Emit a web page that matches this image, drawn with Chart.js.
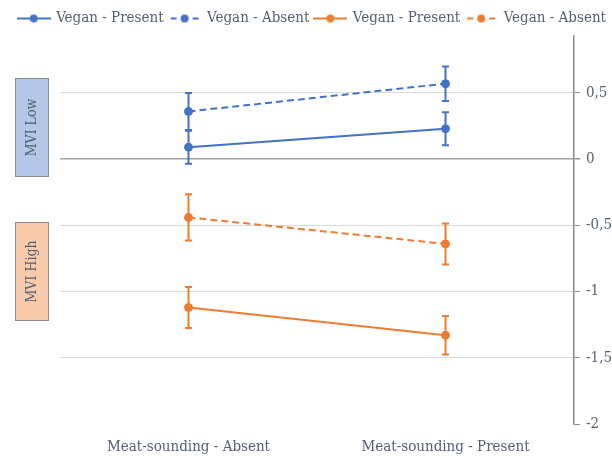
<!DOCTYPE html>
<html>
<head>
<meta charset="utf-8">
<script src="https://cdn.jsdelivr.net/npm/chart.js@4"></script>
<style>
  html, body { margin: 0; padding: 0; background: #fff; }
  #wrap { width: 612px; height: 462px; position: relative; }
</style>
</head>
<body>
<div id="wrap"><canvas id="chartCanvas" width="612" height="462"></canvas></div>
<script>
// donnees
const categories = ["Meat-sounding - Absent", "Meat-sounding - Present"];
const seriesNames = ["Vegan - Present", "Vegan - Absent", "Vegan - Present", "Vegan - Absent"];
const lowPresent = [0.09, 0.23];
const lowAbsent = [0.36, 0.57];
const highAbsent = [-0.44, -0.64];
const highPresent = [-1.12, -1.33];
const lowPresentErr = [0.125, 0.125];
const lowAbsentErr = [0.14, 0.13];
const highAbsentErr = [0.175, 0.155];
const highPresentErr = [0.155, 0.145];
const tickValues = [0.5, 0, -0.5, -1, -1.5, -2];
const boxLabels = ["MVI Low", "MVI High"];

const BLUE = "#4472C4";
const ORANGE = "#ED7D31";
const TXT = "#56606f";
const FONT = "'DejaVu Serif Condensed', 'DejaVu Serif', serif";

// petit symbole pour la legende (ligne + point)
const makeSymbol = (color, dashed) => {
  const c = document.createElement("canvas");
  c.width = 34;
  c.height = 12;
  const g = c.getContext("2d");
  g.strokeStyle = color;
  g.fillStyle = color;
  g.lineWidth = 2;
  g.beginPath();
  if (dashed) {
    g.moveTo(3, 6); g.lineTo(9, 6);
    g.moveTo(25, 6); g.lineTo(31, 6);
  } else {
    g.moveTo(0, 6); g.lineTo(34, 6);
  }
  g.stroke();
  g.beginPath();
  g.arc(17, 6, 4, 0, Math.PI * 2);
  g.fill();
  return c;
};

const makeDataset = (label, data, color, dashed, err) => ({
  label: label,
  data: data,
  errors: err,
  yAxisID: "y",
  borderColor: color,
  backgroundColor: color,
  pointBackgroundColor: color,
  pointBorderColor: color,
  pointRadius: 4,
  pointHoverRadius: 4,
  pointBorderWidth: 1,
  borderWidth: 2,
  borderDash: dashed ? [7, 4] : [],
  fill: false,
  tension: 0,
  symbol: makeSymbol(color, dashed),
});

// barres d'erreur
const errorBars = {
  id: "errorBars",
  afterDatasetsDraw(chart) {
    const { ctx } = chart;
    const yScale = chart.scales.y;
    chart.data.datasets.forEach((ds, i) => {
      const meta = chart.getDatasetMeta(i);
      ctx.save();
      ctx.strokeStyle = ds.borderColor;
      ctx.lineWidth = 2;
      meta.data.forEach((pt, j) => {
        const v = ds.data[j];
        const e = ds.errors[j];
        const yTop = yScale.getPixelForValue(v + e);
        const yBot = yScale.getPixelForValue(v - e);
        ctx.beginPath();
        ctx.moveTo(pt.x, yTop); ctx.lineTo(pt.x, yBot);
        ctx.moveTo(pt.x - 3.5, yTop); ctx.lineTo(pt.x + 3.5, yTop);
        ctx.moveTo(pt.x - 3.5, yBot); ctx.lineTo(pt.x + 3.5, yBot);
        ctx.stroke();
      });
      ctx.restore();
    });
  },
};

// etiquettes MVI a gauche
const sideBoxes = {
  id: "sideBoxes",
  afterDraw(chart) {
    const { ctx } = chart;
    const boxes = [
      { text: boxLabels[0], y: 78, fill: "#b4c7e7" },
      { text: boxLabels[1], y: 222, fill: "#f8cbad" },
    ];
    boxes.forEach((b) => {
      ctx.save();
      ctx.fillStyle = b.fill;
      ctx.fillRect(15, b.y, 34, 99);
      ctx.strokeStyle = "#8c8c8c";
      ctx.lineWidth = 1;
      ctx.strokeRect(15.5, b.y + 0.5, 33, 98);
      ctx.translate(32, b.y + 49.5);
      ctx.rotate(-Math.PI / 2);
      ctx.fillStyle = TXT;
      ctx.font = "14px " + FONT;
      ctx.textAlign = "center";
      ctx.textBaseline = "middle";
      ctx.fillText(b.text, 0, 0);
      ctx.restore();
    });
  },
};

const chartCanvas = document.getElementById("chartCanvas");

const chart = new Chart(chartCanvas, {
  type: "line",
  data: {
    labels: categories,
    datasets: [
      makeDataset(seriesNames[0], lowPresent, BLUE, false, lowPresentErr),
      makeDataset(seriesNames[1], lowAbsent, BLUE, true, lowAbsentErr),
      makeDataset(seriesNames[2], highPresent, ORANGE, false, highPresentErr),
      makeDataset(seriesNames[3], highAbsent, ORANGE, true, highAbsentErr),
    ],
  },
  options: {
    responsive: false,
    animation: false,
    layout: { padding: { left: 0, right: 0, top: 5, bottom: 0 } },
    plugins: {
      tooltip: { enabled: false },
      legend: {
        position: "top",
        align: "end",
        labels: {
          usePointStyle: true,
          pointStyleWidth: 30,
          boxHeight: 12,
          padding: 6,
          color: TXT,
          font: { family: FONT, size: 15 },
          generateLabels: (c) =>
            c.data.datasets.map((ds, i) => ({
              text: ds.label,
              pointStyle: ds.symbol,
              fontColor: TXT,
              datasetIndex: i,
              hidden: false,
              lineWidth: 0,
              strokeStyle: "transparent",
              fillStyle: "transparent",
            })),
        },
      },
    },
    scales: {
      x: {
        offset: true,
        grid: { display: false, drawTicks: false },
        border: { display: false },
        afterFit: (scale) => {
          scale.height = 38;
        },
        ticks: {
          color: TXT,
          font: { family: FONT, size: 15 },
          padding: 14,
          maxRotation: 0,
        },
      },
      // marge gauche pour les etiquettes MVI
      yLeft: {
        position: "left",
        display: true,
        min: 0,
        max: 1,
        grid: { display: false, drawTicks: false },
        border: { display: false },
        ticks: { display: false },
        afterFit: (scale) => {
          scale.width = 60;
        },
      },
      y: {
        position: "right",
        min: -2,
        max: 0.93,
        afterBuildTicks: (scale) => {
          scale.ticks = tickValues.map((v) => ({ value: v }));
        },
        afterFit: (scale) => {
          scale.width = 38;
        },
        grid: {
          color: (ctx) => {
            const v = ctx.tick ? ctx.tick.value : null;
            if (v === 0) return "#a0a0a0";
            if (v === -2) return "rgba(0,0,0,0)";
            return "#dadada";
          },
          lineWidth: (ctx) => (ctx.tick && ctx.tick.value === 0 ? 1.5 : 1),
          tickColor: "#8c8c8c",
          tickLength: 6,
        },
        border: { display: true, color: "#8c8c8c", width: 1.5 },
        ticks: {
          color: TXT,
          font: { family: FONT, size: 15 },
          padding: 6,
          crossAlign: "near",
          callback: (v) => String(v).replace(".", ","),
        },
      },
    },
  },
  plugins: [errorBars, sideBoxes],
});
</script>
</body>
</html>
